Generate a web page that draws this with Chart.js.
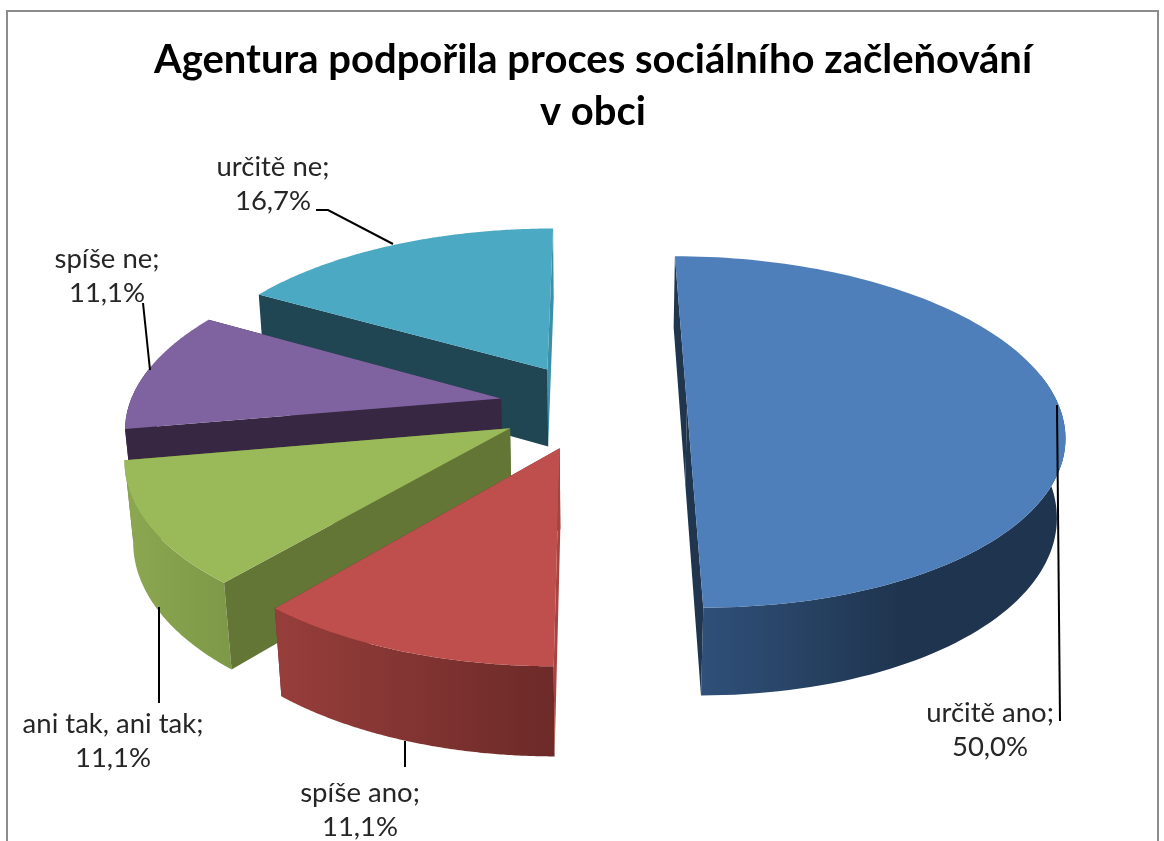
<!DOCTYPE html>
<html lang="cs">
<head>
<meta charset="utf-8">
<title>Agentura podpořila proces sociálního začleňování v obci</title>
<script src="https://cdn.jsdelivr.net/npm/chart.js@4"></script>
<style>
html,body{margin:0;padding:0;background:#fff;overflow:hidden}
#wrap{position:absolute;left:0;top:0;width:1164px;height:841px}
canvas{filter:blur(.45px)}
</style>
</head>
<body>
<div id="wrap"><canvas id="c" width="1164" height="841"></canvas></div>
<script>
// ---- data ----
const titleLines = ['Agentura podpořila proces sociálního začleňování', 'v obci'];
const categories = ['určitě ano', 'spíše ano', 'ani tak, ani tak', 'spíše ne', 'určitě ne'];
const shares = [50.0, 11.1, 11.1, 11.1, 16.7];

// ---- styles ----
const topColors  = ['#4f7fbb', '#be4f4c', '#9ab958', '#7f63a1', '#4ba9c4'];
const startFaces = ['#20364f', '#a8443f', '#647636', '#372742', '#1f4652'];
const endFaces   = ['#20364f', '#6f2b29', '#647636', '#372742', '#3c8fa6'];
const wallLeft   = ['#30507a', '#973e3b', '#8ba750', '#372742', '#1f4652'];
const wallRight  = ['#1f354f', '#6c2a28', '#7d9847', '#372742', '#1f4652'];
const wallSpan   = [[700, 900], [275, 555], [130, 233], [128, 300], [262, 400]];
const paintOrder = [4, 3, 2, 1, 0];   // back to front

// ---- view of the tilted, extruded pie ----
const TILT = 0.462, PERSP = 0.000397, DEPTH = 80, SINK = 0.018;
function project(el, X, Y, z) {
  const den = 1 - PERSP * Y + SINK * z;
  return [el.cx + X / den, el.cy + (TILT * Y + DEPTH * z) / den];
}

class Arc3D extends Chart.ArcElement {
  static id = 'arc3d';
  draw(ctx) {
    const p = this.getProps(['x', 'y', 'startAngle', 'endAngle', 'outerRadius']);
    const i = this.$index;
    const off = this.options.offset || 0;
    const mid = (p.startAngle + p.endAngle) / 2;
    const ax = Math.cos(mid) * off, ay = Math.sin(mid) * off;
    const R = p.outerRadius;
    const v = {cx: p.x, cy: p.y};
    const steps = 120;
    const angleAt = t => p.startAngle + (p.endAngle - p.startAngle) * t;
    const arcAt = (t, z) => {
      const a = angleAt(t);
      return project(v, ax + Math.cos(a) * R, ay + Math.sin(a) * R, z);
    };
    const poly = (pts, fill) => {
      if (pts.length < 3) return;
      ctx.beginPath();
      pts.forEach((q, n) => n ? ctx.lineTo(q[0], q[1]) : ctx.moveTo(q[0], q[1]));
      ctx.closePath();
      ctx.fillStyle = fill;
      ctx.fill();
    };
    const face = (t, color) => poly([
      project(v, ax, ay, 0), arcAt(t, 0), arcAt(t, 1), project(v, ax, ay, 1)
    ], color);

    ctx.save();
    const startBack = Math.sin(p.startAngle) < Math.sin(p.endAngle);
    if (startBack) face(0, startFaces[i]); else face(1, endFaces[i]);

    // outer wall: only the part that turns toward the viewer
    const ts = [];
    for (let s = 0; s <= steps; s++) {
      if (Math.sin(angleAt(s / steps)) > -0.2) ts.push(s / steps);
    }
    const wall = ts.map(t => arcAt(t, 0)).concat(ts.slice().reverse().map(t => arcAt(t, 1)));
    const g = ctx.createLinearGradient(wallSpan[i][0], 0, wallSpan[i][1], 0);
    g.addColorStop(0, wallLeft[i]);
    g.addColorStop(1, wallRight[i]);
    poly(wall, g);

    if (startBack) face(1, endFaces[i]); else face(0, startFaces[i]);

    const top = [project(v, ax, ay, 0)];
    for (let s = 0; s <= steps; s++) top.push(arcAt(s / steps, 0));
    poly(top, topColors[i]);
    ctx.restore();
  }
}

class Pie3DController extends Chart.PieController {
  static id = 'pie3d';
  static defaults = {dataElementType: 'arc3d'};
  draw() {
    const ctx = this.chart.ctx;
    const arcs = this._cachedMeta.data;
    arcs.forEach((a, n) => { a.$index = n; });
    paintOrder.forEach(n => arcs[n].draw(ctx));
  }
}
Chart.register(Arc3D, Pie3DController);

// ---- frame, leader lines and data labels ----
const labelCenters = [[990, 713], [360, 793], [113, 724], [107, 259], [273, 167]];
const leaderPaths = [
  [[1057, 405], [1060, 721]],
  [[405, 741], [405, 767]],
  [[159, 607], [159, 703]],
  [[143, 303], [150, 370]],
  [[316, 210], [328, 210], [393, 244]]
];
const LABEL_LINE = 34;

const framePlugin = {
  id: 'frame',
  beforeDraw(chart) {
    const c = chart.ctx;
    c.save();
    c.strokeStyle = '#8c8c8c';
    c.lineWidth = 2;
    c.beginPath();
    c.moveTo(7, 841); c.lineTo(7, 11); c.lineTo(1158, 11); c.lineTo(1158, 841);
    c.stroke();
    c.restore();
  }
};
const labelPlugin = {
  id: 'sliceLabels',
  afterDatasetsDraw(chart) {
    const c = chart.ctx;
    c.save();
    c.strokeStyle = '#000';
    c.lineWidth = 2;
    leaderPaths.forEach(path => {
      c.beginPath();
      path.forEach((q, n) => n ? c.lineTo(q[0], q[1]) : c.moveTo(q[0], q[1]));
      c.stroke();
    });
    c.fillStyle = '#262626';
    c.font = '27.5px Lato';
    c.textAlign = 'center';
    c.textBaseline = 'middle';
    categories.forEach((name, i) => {
      const [x, y] = labelCenters[i];
      c.fillText(name + ';', x, y);
      c.fillText(shares[i].toFixed(1).replace('.', ',') + '%', x, y + LABEL_LINE);
    });
    c.restore();
  }
};

new Chart(document.getElementById('c'), {
  type: 'pie3d',
  data: {
    labels: categories,
    datasets: [{
      data: shares,
      backgroundColor: topColors,
      offset: 94,
      borderWidth: 0
    }]
  },
  options: {
    responsive: false,
    animation: false,
    radius: 372,
    layout: {padding: {left: 22, right: 0, top: 0, bottom: 167}},
    plugins: {
      legend: {display: false},
      tooltip: {enabled: false},
      title: {
        display: true,
        text: titleLines,
        color: '#000',
        font: {family: 'Lato', weight: 'bold', size: 40, lineHeight: 1.3},
        padding: {top: 34, bottom: 0}
      }
    }
  },
  plugins: [framePlugin, labelPlugin]
});
</script>
</body>
</html>
